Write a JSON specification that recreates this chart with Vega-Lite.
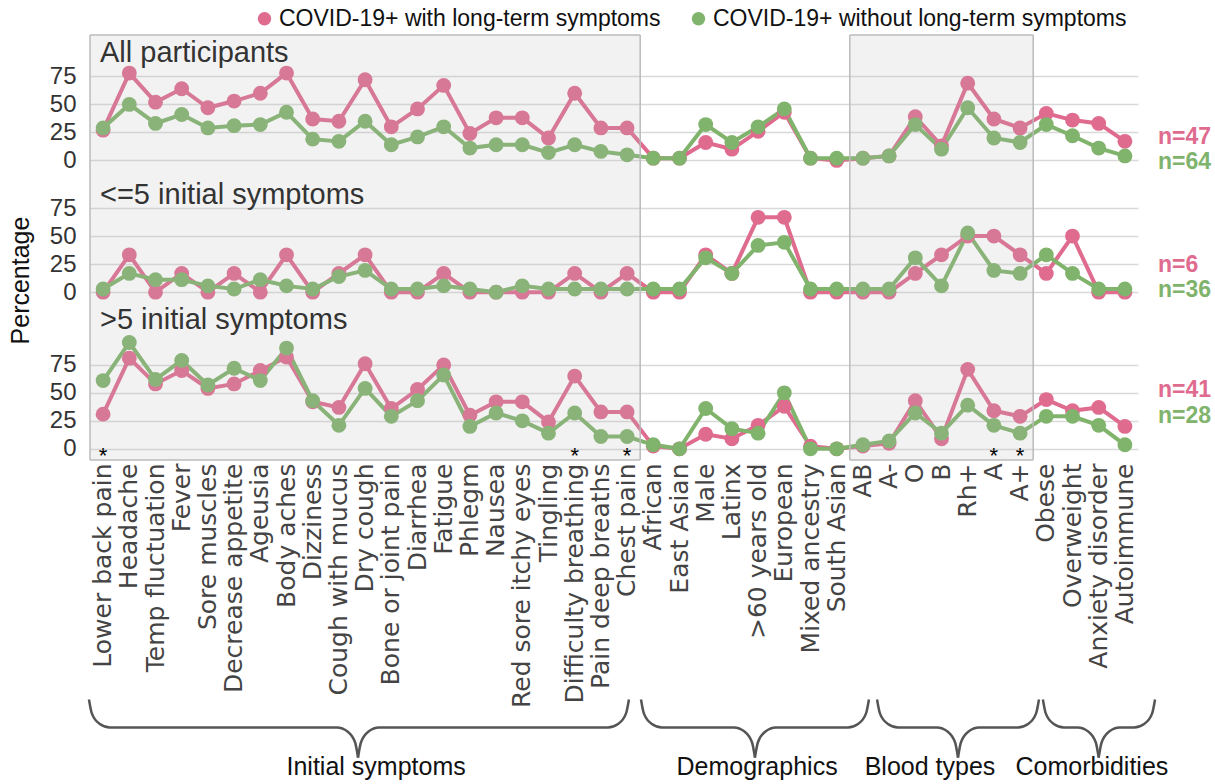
{
  "$schema": "https://vega.github.io/schema/vega-lite/v6.json",
  "padding": {"left": 7, "top": 7, "right": 2, "bottom": 0},
  "background": "white",
  "config": {"view": {"stroke": null}, "font": "Liberation Sans"},
  "spacing": 0,
  "bounds": "flush",
  "resolve": {"scale": {"x": "independent", "y": "independent"}},
  "datasets": {
    "d": [
      {"p":1,"c":"Lower back pain","COVID-19+ with long-term symptoms":27,"COVID-19+ without long-term symptoms":29},
      {"p":1,"c":"Headache","COVID-19+ with long-term symptoms":78,"COVID-19+ without long-term symptoms":50},
      {"p":1,"c":"Temp fluctuation","COVID-19+ with long-term symptoms":52,"COVID-19+ without long-term symptoms":33},
      {"p":1,"c":"Fever","COVID-19+ with long-term symptoms":64,"COVID-19+ without long-term symptoms":41},
      {"p":1,"c":"Sore muscles","COVID-19+ with long-term symptoms":47,"COVID-19+ without long-term symptoms":29},
      {"p":1,"c":"Decrease appetite","COVID-19+ with long-term symptoms":53,"COVID-19+ without long-term symptoms":31},
      {"p":1,"c":"Ageusia","COVID-19+ with long-term symptoms":60,"COVID-19+ without long-term symptoms":32},
      {"p":1,"c":"Body aches","COVID-19+ with long-term symptoms":78,"COVID-19+ without long-term symptoms":43},
      {"p":1,"c":"Dizziness","COVID-19+ with long-term symptoms":37,"COVID-19+ without long-term symptoms":19},
      {"p":1,"c":"Cough with mucus","COVID-19+ with long-term symptoms":35,"COVID-19+ without long-term symptoms":17},
      {"p":1,"c":"Dry cough","COVID-19+ with long-term symptoms":72,"COVID-19+ without long-term symptoms":35},
      {"p":1,"c":"Bone or joint pain","COVID-19+ with long-term symptoms":30,"COVID-19+ without long-term symptoms":14},
      {"p":1,"c":"Diarrhea","COVID-19+ with long-term symptoms":46,"COVID-19+ without long-term symptoms":21},
      {"p":1,"c":"Fatigue","COVID-19+ with long-term symptoms":67,"COVID-19+ without long-term symptoms":30},
      {"p":1,"c":"Phlegm","COVID-19+ with long-term symptoms":24,"COVID-19+ without long-term symptoms":11},
      {"p":1,"c":"Nausea","COVID-19+ with long-term symptoms":38,"COVID-19+ without long-term symptoms":14},
      {"p":1,"c":"Red sore itchy eyes","COVID-19+ with long-term symptoms":38,"COVID-19+ without long-term symptoms":14},
      {"p":1,"c":"Tingling","COVID-19+ with long-term symptoms":20,"COVID-19+ without long-term symptoms":7},
      {"p":1,"c":"Difficulty breathing","COVID-19+ with long-term symptoms":60,"COVID-19+ without long-term symptoms":14},
      {"p":1,"c":"Pain deep breaths","COVID-19+ with long-term symptoms":29,"COVID-19+ without long-term symptoms":8},
      {"p":1,"c":"Chest pain","COVID-19+ with long-term symptoms":29,"COVID-19+ without long-term symptoms":5},
      {"p":1,"c":"African","COVID-19+ with long-term symptoms":2,"COVID-19+ without long-term symptoms":2},
      {"p":1,"c":"East Asian","COVID-19+ with long-term symptoms":2,"COVID-19+ without long-term symptoms":2},
      {"p":1,"c":"Male","COVID-19+ with long-term symptoms":16,"COVID-19+ without long-term symptoms":32},
      {"p":1,"c":"Latinx","COVID-19+ with long-term symptoms":10,"COVID-19+ without long-term symptoms":16},
      {"p":1,"c":">60 years old","COVID-19+ with long-term symptoms":26,"COVID-19+ without long-term symptoms":30},
      {"p":1,"c":"European","COVID-19+ with long-term symptoms":43,"COVID-19+ without long-term symptoms":46},
      {"p":1,"c":"Mixed ancestry","COVID-19+ with long-term symptoms":2,"COVID-19+ without long-term symptoms":2},
      {"p":1,"c":"South Asian","COVID-19+ with long-term symptoms":0,"COVID-19+ without long-term symptoms":2},
      {"p":1,"c":"AB","COVID-19+ with long-term symptoms":2,"COVID-19+ without long-term symptoms":2},
      {"p":1,"c":"A-","COVID-19+ with long-term symptoms":4,"COVID-19+ without long-term symptoms":4},
      {"p":1,"c":"O","COVID-19+ with long-term symptoms":39,"COVID-19+ without long-term symptoms":32},
      {"p":1,"c":"B","COVID-19+ with long-term symptoms":13,"COVID-19+ without long-term symptoms":10},
      {"p":1,"c":"Rh+","COVID-19+ with long-term symptoms":69,"COVID-19+ without long-term symptoms":47},
      {"p":1,"c":"A","COVID-19+ with long-term symptoms":37,"COVID-19+ without long-term symptoms":20},
      {"p":1,"c":"A+","COVID-19+ with long-term symptoms":29,"COVID-19+ without long-term symptoms":16},
      {"p":1,"c":"Obese","COVID-19+ with long-term symptoms":42,"COVID-19+ without long-term symptoms":32},
      {"p":1,"c":"Overweight","COVID-19+ with long-term symptoms":36,"COVID-19+ without long-term symptoms":22},
      {"p":1,"c":"Anxiety disorder","COVID-19+ with long-term symptoms":33,"COVID-19+ without long-term symptoms":11},
      {"p":1,"c":"Autoimmune","COVID-19+ with long-term symptoms":17,"COVID-19+ without long-term symptoms":4},
      {"p":2,"c":"Lower back pain","COVID-19+ with long-term symptoms":0,"COVID-19+ without long-term symptoms":2.8},
      {"p":2,"c":"Headache","COVID-19+ with long-term symptoms":33.3,"COVID-19+ without long-term symptoms":16.7},
      {"p":2,"c":"Temp fluctuation","COVID-19+ with long-term symptoms":0,"COVID-19+ without long-term symptoms":11.1},
      {"p":2,"c":"Fever","COVID-19+ with long-term symptoms":16.7,"COVID-19+ without long-term symptoms":11.1},
      {"p":2,"c":"Sore muscles","COVID-19+ with long-term symptoms":0,"COVID-19+ without long-term symptoms":5.6},
      {"p":2,"c":"Decrease appetite","COVID-19+ with long-term symptoms":16.7,"COVID-19+ without long-term symptoms":2.8},
      {"p":2,"c":"Ageusia","COVID-19+ with long-term symptoms":0,"COVID-19+ without long-term symptoms":11.1},
      {"p":2,"c":"Body aches","COVID-19+ with long-term symptoms":33.3,"COVID-19+ without long-term symptoms":5.6},
      {"p":2,"c":"Dizziness","COVID-19+ with long-term symptoms":0,"COVID-19+ without long-term symptoms":2.8},
      {"p":2,"c":"Cough with mucus","COVID-19+ with long-term symptoms":16.7,"COVID-19+ without long-term symptoms":13.9},
      {"p":2,"c":"Dry cough","COVID-19+ with long-term symptoms":33.3,"COVID-19+ without long-term symptoms":19.4},
      {"p":2,"c":"Bone or joint pain","COVID-19+ with long-term symptoms":0,"COVID-19+ without long-term symptoms":2.8},
      {"p":2,"c":"Diarrhea","COVID-19+ with long-term symptoms":0,"COVID-19+ without long-term symptoms":2.8},
      {"p":2,"c":"Fatigue","COVID-19+ with long-term symptoms":16.7,"COVID-19+ without long-term symptoms":5.6},
      {"p":2,"c":"Phlegm","COVID-19+ with long-term symptoms":0,"COVID-19+ without long-term symptoms":2.8},
      {"p":2,"c":"Nausea","COVID-19+ with long-term symptoms":0,"COVID-19+ without long-term symptoms":0},
      {"p":2,"c":"Red sore itchy eyes","COVID-19+ with long-term symptoms":0,"COVID-19+ without long-term symptoms":5.6},
      {"p":2,"c":"Tingling","COVID-19+ with long-term symptoms":0,"COVID-19+ without long-term symptoms":2.8},
      {"p":2,"c":"Difficulty breathing","COVID-19+ with long-term symptoms":16.7,"COVID-19+ without long-term symptoms":2.8},
      {"p":2,"c":"Pain deep breaths","COVID-19+ with long-term symptoms":0,"COVID-19+ without long-term symptoms":2.8},
      {"p":2,"c":"Chest pain","COVID-19+ with long-term symptoms":16.7,"COVID-19+ without long-term symptoms":2.8},
      {"p":2,"c":"African","COVID-19+ with long-term symptoms":0,"COVID-19+ without long-term symptoms":2.8},
      {"p":2,"c":"East Asian","COVID-19+ with long-term symptoms":0,"COVID-19+ without long-term symptoms":2.8},
      {"p":2,"c":"Male","COVID-19+ with long-term symptoms":33.3,"COVID-19+ without long-term symptoms":30.6},
      {"p":2,"c":"Latinx","COVID-19+ with long-term symptoms":16.7,"COVID-19+ without long-term symptoms":16.7},
      {"p":2,"c":">60 years old","COVID-19+ with long-term symptoms":66.7,"COVID-19+ without long-term symptoms":41.7},
      {"p":2,"c":"European","COVID-19+ with long-term symptoms":66.7,"COVID-19+ without long-term symptoms":44.4},
      {"p":2,"c":"Mixed ancestry","COVID-19+ with long-term symptoms":0,"COVID-19+ without long-term symptoms":2.8},
      {"p":2,"c":"South Asian","COVID-19+ with long-term symptoms":0,"COVID-19+ without long-term symptoms":2.8},
      {"p":2,"c":"AB","COVID-19+ with long-term symptoms":0,"COVID-19+ without long-term symptoms":2.8},
      {"p":2,"c":"A-","COVID-19+ with long-term symptoms":0,"COVID-19+ without long-term symptoms":2.8},
      {"p":2,"c":"O","COVID-19+ with long-term symptoms":16.7,"COVID-19+ without long-term symptoms":30.6},
      {"p":2,"c":"B","COVID-19+ with long-term symptoms":33.3,"COVID-19+ without long-term symptoms":5.6},
      {"p":2,"c":"Rh+","COVID-19+ with long-term symptoms":50,"COVID-19+ without long-term symptoms":52.8},
      {"p":2,"c":"A","COVID-19+ with long-term symptoms":50,"COVID-19+ without long-term symptoms":19.4},
      {"p":2,"c":"A+","COVID-19+ with long-term symptoms":33.3,"COVID-19+ without long-term symptoms":16.7},
      {"p":2,"c":"Obese","COVID-19+ with long-term symptoms":16.7,"COVID-19+ without long-term symptoms":33.3},
      {"p":2,"c":"Overweight","COVID-19+ with long-term symptoms":50,"COVID-19+ without long-term symptoms":16.7},
      {"p":2,"c":"Anxiety disorder","COVID-19+ with long-term symptoms":0,"COVID-19+ without long-term symptoms":2.8},
      {"p":2,"c":"Autoimmune","COVID-19+ with long-term symptoms":0,"COVID-19+ without long-term symptoms":2.8},
      {"p":3,"c":"Lower back pain","COVID-19+ with long-term symptoms":31,"COVID-19+ without long-term symptoms":61},
      {"p":3,"c":"Headache","COVID-19+ with long-term symptoms":81,"COVID-19+ without long-term symptoms":95},
      {"p":3,"c":"Temp fluctuation","COVID-19+ with long-term symptoms":58,"COVID-19+ without long-term symptoms":62},
      {"p":3,"c":"Fever","COVID-19+ with long-term symptoms":70,"COVID-19+ without long-term symptoms":79},
      {"p":3,"c":"Sore muscles","COVID-19+ with long-term symptoms":54,"COVID-19+ without long-term symptoms":57},
      {"p":3,"c":"Decrease appetite","COVID-19+ with long-term symptoms":58,"COVID-19+ without long-term symptoms":72},
      {"p":3,"c":"Ageusia","COVID-19+ with long-term symptoms":70,"COVID-19+ without long-term symptoms":61},
      {"p":3,"c":"Body aches","COVID-19+ with long-term symptoms":82,"COVID-19+ without long-term symptoms":90},
      {"p":3,"c":"Dizziness","COVID-19+ with long-term symptoms":42,"COVID-19+ without long-term symptoms":43},
      {"p":3,"c":"Cough with mucus","COVID-19+ with long-term symptoms":37,"COVID-19+ without long-term symptoms":21},
      {"p":3,"c":"Dry cough","COVID-19+ with long-term symptoms":76,"COVID-19+ without long-term symptoms":54},
      {"p":3,"c":"Bone or joint pain","COVID-19+ with long-term symptoms":36,"COVID-19+ without long-term symptoms":29},
      {"p":3,"c":"Diarrhea","COVID-19+ with long-term symptoms":53,"COVID-19+ without long-term symptoms":43},
      {"p":3,"c":"Fatigue","COVID-19+ with long-term symptoms":75,"COVID-19+ without long-term symptoms":66},
      {"p":3,"c":"Phlegm","COVID-19+ with long-term symptoms":30,"COVID-19+ without long-term symptoms":20},
      {"p":3,"c":"Nausea","COVID-19+ with long-term symptoms":42,"COVID-19+ without long-term symptoms":32},
      {"p":3,"c":"Red sore itchy eyes","COVID-19+ with long-term symptoms":42,"COVID-19+ without long-term symptoms":25},
      {"p":3,"c":"Tingling","COVID-19+ with long-term symptoms":24,"COVID-19+ without long-term symptoms":14},
      {"p":3,"c":"Difficulty breathing","COVID-19+ with long-term symptoms":65,"COVID-19+ without long-term symptoms":32},
      {"p":3,"c":"Pain deep breaths","COVID-19+ with long-term symptoms":33,"COVID-19+ without long-term symptoms":11},
      {"p":3,"c":"Chest pain","COVID-19+ with long-term symptoms":33,"COVID-19+ without long-term symptoms":11},
      {"p":3,"c":"African","COVID-19+ with long-term symptoms":2.4,"COVID-19+ without long-term symptoms":3.6},
      {"p":3,"c":"East Asian","COVID-19+ with long-term symptoms":0,"COVID-19+ without long-term symptoms":0},
      {"p":3,"c":"Male","COVID-19+ with long-term symptoms":13,"COVID-19+ without long-term symptoms":36},
      {"p":3,"c":"Latinx","COVID-19+ with long-term symptoms":9,"COVID-19+ without long-term symptoms":18},
      {"p":3,"c":">60 years old","COVID-19+ with long-term symptoms":21,"COVID-19+ without long-term symptoms":14},
      {"p":3,"c":"European","COVID-19+ with long-term symptoms":38,"COVID-19+ without long-term symptoms":50},
      {"p":3,"c":"Mixed ancestry","COVID-19+ with long-term symptoms":2.4,"COVID-19+ without long-term symptoms":0},
      {"p":3,"c":"South Asian","COVID-19+ with long-term symptoms":0,"COVID-19+ without long-term symptoms":0},
      {"p":3,"c":"AB","COVID-19+ with long-term symptoms":2.4,"COVID-19+ without long-term symptoms":3.6},
      {"p":3,"c":"A-","COVID-19+ with long-term symptoms":4.9,"COVID-19+ without long-term symptoms":7},
      {"p":3,"c":"O","COVID-19+ with long-term symptoms":43,"COVID-19+ without long-term symptoms":32},
      {"p":3,"c":"B","COVID-19+ with long-term symptoms":9,"COVID-19+ without long-term symptoms":14},
      {"p":3,"c":"Rh+","COVID-19+ with long-term symptoms":71,"COVID-19+ without long-term symptoms":39},
      {"p":3,"c":"A","COVID-19+ with long-term symptoms":34,"COVID-19+ without long-term symptoms":21},
      {"p":3,"c":"A+","COVID-19+ with long-term symptoms":29,"COVID-19+ without long-term symptoms":14},
      {"p":3,"c":"Obese","COVID-19+ with long-term symptoms":44,"COVID-19+ without long-term symptoms":29},
      {"p":3,"c":"Overweight","COVID-19+ with long-term symptoms":34,"COVID-19+ without long-term symptoms":29},
      {"p":3,"c":"Anxiety disorder","COVID-19+ with long-term symptoms":37,"COVID-19+ without long-term symptoms":21},
      {"p":3,"c":"Autoimmune","COVID-19+ with long-term symptoms":20,"COVID-19+ without long-term symptoms":3.6}
    ]
  },
  "vconcat": [
    {
      "width": 1048,
      "height": 131,
      "layer": [
        {
          "data": {"name": "d"},
          "transform": [{"filter": "datum.p == 1"}, {"fold": ["COVID-19+ with long-term symptoms", "COVID-19+ without long-term symptoms"], "as": ["s", "v"]}],
          "mark": {"type": "line", "strokeWidth": 4},
          "encoding": {
            "x": {"field": "c", "type": "nominal", "scale": {"type": "band", "paddingInner": 0, "paddingOuter": 0, "domain": ["Lower back pain","Headache","Temp fluctuation","Fever","Sore muscles","Decrease appetite","Ageusia","Body aches","Dizziness","Cough with mucus","Dry cough","Bone or joint pain","Diarrhea","Fatigue","Phlegm","Nausea","Red sore itchy eyes","Tingling","Difficulty breathing","Pain deep breaths","Chest pain","African","East Asian","Male","Latinx",">60 years old","European","Mixed ancestry","South Asian","AB","A-","O","B","Rh+","A","A+","Obese","Overweight","Anxiety disorder","Autoimmune"]}, "axis": null},
            "y": {"field": "v", "type": "quantitative", "scale": {"domain": [-5, 112], "nice": false, "zero": false}, "axis": {"values": [0, 25, 50, 75], "grid": true, "gridColor": "#d9d9d9", "gridWidth": 1.5, "domain": false, "ticks": false, "labelFontSize": 24, "labelColor": "#333", "labelPadding": 14, "labelFont": "Liberation Sans", "title": null}},
            "detail": {"field": "s"},
            "stroke": {"condition": {"test": "datum.s == 'COVID-19+ with long-term symptoms'", "value": "#df6b8f"}, "value": "#80b36c"}
          }
        },
        {
          "data": {"name": "d"},
          "transform": [{"filter": "datum.p == 1"}, {"fold": ["COVID-19+ with long-term symptoms", "COVID-19+ without long-term symptoms"], "as": ["s", "v"]}],
          "mark": {"type": "point", "filled": true, "size": 220, "opacity": 1, "strokeWidth": 0},
          "encoding": {
            "x": {"field": "c", "type": "nominal", "axis": null},
            "y": {"field": "v", "type": "quantitative"},
            "color": {"field": "s", "type": "nominal", "scale": {"domain": ["COVID-19+ with long-term symptoms", "COVID-19+ without long-term symptoms"], "range": ["#df6b8f", "#80b36c"]}, "legend": {"title": null, "orient": "none", "legendX": 163, "legendY": -28, "direction": "horizontal", "labelFontSize": 23, "labelFont": "Liberation Sans", "labelColor": "#111", "symbolSize": 180, "symbolType": "circle", "columnPadding": 26, "labelOffset": 3, "padding": 0, "symbolStrokeWidth": 0, "labelLimit": 600}}
          }
        },
        {
          "data": {"values": [{"c": "Lower back pain", "c2": "Chest pain"}, {"c": "AB", "c2": "A+"}]},
          "mark": {"type": "rect", "fill": "#b8b8b8", "opacity": 0.18},
          "encoding": {
            "x": {"field": "c", "type": "nominal", "bandPosition": 0, "axis": null},
            "x2": {"field": "c2", "bandPosition": 1}
          }
        },
        {
          "data": {"values": [{"c": "Lower back pain"}, {"c": "AB"}]},
          "mark": {"type": "rule", "color": "#bbbbbb", "strokeWidth": 1.5},
          "encoding": {"x": {"field": "c", "type": "nominal", "bandPosition": 0, "axis": null}}
        },
        {
          "data": {"values": [{"c": "Chest pain"}, {"c": "A+"}]},
          "mark": {"type": "rule", "color": "#bbbbbb", "strokeWidth": 1.5},
          "encoding": {"x": {"field": "c", "type": "nominal", "bandPosition": 1, "axis": null}}
        },
        {
          "data": {"values": [{"c": "Lower back pain", "c2": "Chest pain"}, {"c": "AB", "c2": "A+"}]},
          "mark": {"type": "rule", "color": "#bbbbbb", "strokeWidth": 1.5},
          "encoding": {
            "x": {"field": "c", "type": "nominal", "bandPosition": 0, "axis": null},
            "x2": {"field": "c2", "bandPosition": 1},
            "y": {"datum": 112, "type": "quantitative"}
          }
        },
        {
          "data": {"values": [{"c": "Lower back pain", "t": "All participants", "v": 96}]},
          "mark": {"type": "text", "align": "left", "baseline": "middle", "fontSize": 29, "dx": 10, "color": "#333"},
          "encoding": {
            "x": {"field": "c", "type": "nominal", "bandPosition": 0, "axis": null},
            "y": {"field": "v", "type": "quantitative"},
            "text": {"field": "t"}
          }
        },
        {
          "data": {"values": [{"c": "Autoimmune", "s": "COVID-19+ with long-term symptoms", "t": "n=47", "v": 21}, {"c": "Autoimmune", "s": "COVID-19+ without long-term symptoms", "t": "n=64", "v": -1.5}]},
          "mark": {"type": "text", "align": "left", "baseline": "middle", "fontSize": 23, "fontWeight": "bold", "dx": 33},
          "encoding": {
            "x": {"field": "c", "type": "nominal", "axis": null},
            "y": {"field": "v", "type": "quantitative"},
            "color": {"condition": {"test": "datum.s == 'COVID-19+ with long-term symptoms'", "value": "#df6b8f"}, "value": "#80b36c"},
            "text": {"field": "t"}
          }
        }
      ]
    },
    {
      "width": 1048,
      "height": 134,
      "layer": [
        {
          "data": {"name": "d"},
          "transform": [{"filter": "datum.p == 2"}, {"fold": ["COVID-19+ with long-term symptoms", "COVID-19+ without long-term symptoms"], "as": ["s", "v"]}],
          "mark": {"type": "line", "strokeWidth": 4},
          "encoding": {
            "x": {"field": "c", "type": "nominal", "scale": {"type": "band", "paddingInner": 0, "paddingOuter": 0, "domain": ["Lower back pain","Headache","Temp fluctuation","Fever","Sore muscles","Decrease appetite","Ageusia","Body aches","Dizziness","Cough with mucus","Dry cough","Bone or joint pain","Diarrhea","Fatigue","Phlegm","Nausea","Red sore itchy eyes","Tingling","Difficulty breathing","Pain deep breaths","Chest pain","African","East Asian","Male","Latinx",">60 years old","European","Mixed ancestry","South Asian","AB","A-","O","B","Rh+","A","A+","Obese","Overweight","Anxiety disorder","Autoimmune"]}, "axis": null},
            "y": {"field": "v", "type": "quantitative", "scale": {"domain": [-7, 112.5], "nice": false, "zero": false}, "axis": {"values": [0, 25, 50, 75], "grid": true, "gridColor": "#d9d9d9", "gridWidth": 1.5, "domain": false, "ticks": false, "labelFontSize": 24, "labelColor": "#333", "labelPadding": 14, "labelFont": "Liberation Sans", "title": "Percentage", "titleFont": "Liberation Sans", "titleFontSize": 25, "titleFontWeight": "normal", "titleColor": "#111", "titleX": -62, "titleY": 114, "titleAngle": -90, "titleAlign": "center", "titleBaseline": "alphabetic"}},
            "detail": {"field": "s"},
            "stroke": {"condition": {"test": "datum.s == 'COVID-19+ with long-term symptoms'", "value": "#df6b8f"}, "value": "#80b36c"}
          }
        },
        {
          "data": {"name": "d"},
          "transform": [{"filter": "datum.p == 2"}, {"fold": ["COVID-19+ with long-term symptoms", "COVID-19+ without long-term symptoms"], "as": ["s", "v"]}],
          "mark": {"type": "point", "filled": true, "size": 220, "opacity": 1, "strokeWidth": 0},
          "encoding": {
            "x": {"field": "c", "type": "nominal", "axis": null},
            "y": {"field": "v", "type": "quantitative"},
            "color": {"field": "s", "type": "nominal"}
          }
        },
        {
          "data": {"values": [{"c": "Lower back pain", "c2": "Chest pain"}, {"c": "AB", "c2": "A+"}]},
          "mark": {"type": "rect", "fill": "#b8b8b8", "opacity": 0.18},
          "encoding": {
            "x": {"field": "c", "type": "nominal", "bandPosition": 0, "axis": null},
            "x2": {"field": "c2", "bandPosition": 1}
          }
        },
        {
          "data": {"values": [{"c": "Lower back pain"}, {"c": "AB"}]},
          "mark": {"type": "rule", "color": "#bbbbbb", "strokeWidth": 1.5},
          "encoding": {"x": {"field": "c", "type": "nominal", "bandPosition": 0, "axis": null}}
        },
        {
          "data": {"values": [{"c": "Chest pain"}, {"c": "A+"}]},
          "mark": {"type": "rule", "color": "#bbbbbb", "strokeWidth": 1.5},
          "encoding": {"x": {"field": "c", "type": "nominal", "bandPosition": 1, "axis": null}}
        },
        {
          "data": {"values": [{"c": "Lower back pain", "t": "<=5 initial symptoms", "v": 86.6}]},
          "mark": {"type": "text", "align": "left", "baseline": "middle", "fontSize": 29, "dx": 10, "color": "#333"},
          "encoding": {
            "x": {"field": "c", "type": "nominal", "bandPosition": 0, "axis": null},
            "y": {"field": "v", "type": "quantitative"},
            "text": {"field": "t"}
          }
        },
        {
          "data": {"values": [{"c": "Autoimmune", "s": "COVID-19+ with long-term symptoms", "t": "n=6", "v": 24}, {"c": "Autoimmune", "s": "COVID-19+ without long-term symptoms", "t": "n=36", "v": 1.8}]},
          "mark": {"type": "text", "align": "left", "baseline": "middle", "fontSize": 23, "fontWeight": "bold", "dx": 33},
          "encoding": {
            "x": {"field": "c", "type": "nominal", "axis": null},
            "y": {"field": "v", "type": "quantitative"},
            "color": {"condition": {"test": "datum.s == 'COVID-19+ with long-term symptoms'", "value": "#df6b8f"}, "value": "#80b36c"},
            "text": {"field": "t"}
          }
        }
      ]
    },
    {
      "width": 1048,
      "height": 160,
      "resolve": {"scale": {"x": "independent", "y": "independent"}},
      "layer": [
        {
          "layer": [
            {
              "data": {"name": "d"},
              "transform": [{"filter": "datum.p == 3"}, {"fold": ["COVID-19+ with long-term symptoms", "COVID-19+ without long-term symptoms"], "as": ["s", "v"]}],
              "mark": {"type": "line", "strokeWidth": 4},
              "encoding": {
                "x": {"field": "c", "type": "nominal", "scale": {"type": "band", "paddingInner": 0, "paddingOuter": 0, "domain": ["Lower back pain","Headache","Temp fluctuation","Fever","Sore muscles","Decrease appetite","Ageusia","Body aches","Dizziness","Cough with mucus","Dry cough","Bone or joint pain","Diarrhea","Fatigue","Phlegm","Nausea","Red sore itchy eyes","Tingling","Difficulty breathing","Pain deep breaths","Chest pain","African","East Asian","Male","Latinx",">60 years old","European","Mixed ancestry","South Asian","AB","A-","O","B","Rh+","A","A+","Obese","Overweight","Anxiety disorder","Autoimmune"]}, "axis": {"labelAngle": -90, "labelFontSize": 25, "labelFont": "DejaVu Sans", "labelColor": "#444", "ticks": false, "domain": false, "labelPadding": 3, "title": null, "labelOverlap": false, "labelLimit": 500}},
                "y": {"field": "v", "type": "quantitative", "scale": {"domain": [-10, 133], "nice": false, "zero": false}, "axis": {"values": [0, 25, 50, 75], "grid": true, "gridColor": "#d9d9d9", "gridWidth": 1.5, "domain": false, "ticks": false, "labelFontSize": 24, "labelColor": "#333", "labelPadding": 14, "labelFont": "Liberation Sans", "title": null}},
                "detail": {"field": "s"},
                "stroke": {"condition": {"test": "datum.s == 'COVID-19+ with long-term symptoms'", "value": "#df6b8f"}, "value": "#80b36c"}
              }
            },
            {
              "data": {"name": "d"},
              "transform": [{"filter": "datum.p == 3"}, {"fold": ["COVID-19+ with long-term symptoms", "COVID-19+ without long-term symptoms"], "as": ["s", "v"]}],
              "mark": {"type": "point", "filled": true, "size": 220, "opacity": 1, "strokeWidth": 0},
              "encoding": {
                "x": {"field": "c", "type": "nominal"},
                "y": {"field": "v", "type": "quantitative"},
                "color": {"field": "s", "type": "nominal"}
              }
            },
            {
              "data": {"values": [{"c": "Lower back pain", "c2": "Chest pain"}, {"c": "AB", "c2": "A+"}]},
              "mark": {"type": "rect", "fill": "#b8b8b8", "opacity": 0.18},
              "encoding": {
                "x": {"field": "c", "type": "nominal", "bandPosition": 0},
                "x2": {"field": "c2", "bandPosition": 1}
              }
            },
            {
              "data": {"values": [{"c": "Lower back pain"}, {"c": "AB"}]},
              "mark": {"type": "rule", "color": "#bbbbbb", "strokeWidth": 1.5},
              "encoding": {"x": {"field": "c", "type": "nominal", "bandPosition": 0}}
            },
            {
              "data": {"values": [{"c": "Chest pain"}, {"c": "A+"}]},
              "mark": {"type": "rule", "color": "#bbbbbb", "strokeWidth": 1.5},
              "encoding": {"x": {"field": "c", "type": "nominal", "bandPosition": 1}}
            },
            {
              "data": {"values": [{"c": "Lower back pain", "c2": "Chest pain"}, {"c": "AB", "c2": "A+"}]},
              "mark": {"type": "rule", "color": "#bbbbbb", "strokeWidth": 1.5},
              "encoding": {
                "x": {"field": "c", "type": "nominal", "bandPosition": 0},
                "x2": {"field": "c2", "bandPosition": 1},
                "y": {"datum": -10, "type": "quantitative"}
              }
            },
            {
              "data": {"values": [{"c": "Lower back pain", "t": ">5 initial symptoms", "v": 115}]},
              "mark": {"type": "text", "align": "left", "baseline": "middle", "fontSize": 29, "dx": 10, "color": "#333"},
              "encoding": {
                "x": {"field": "c", "type": "nominal", "bandPosition": 0},
                "y": {"field": "v", "type": "quantitative"},
                "text": {"field": "t"}
              }
            },
            {
              "data": {"values": [{"c": "Lower back pain"}, {"c": "Difficulty breathing"}, {"c": "Chest pain"}, {"c": "A"}, {"c": "A+"}]},
              "mark": {"type": "text", "text": "*", "baseline": "middle", "fontSize": 22, "color": "#000"},
              "encoding": {
                "x": {"field": "c", "type": "nominal"},
                "y": {"datum": -6, "type": "quantitative"}
              }
            },
            {
              "data": {"values": [{"c": "Autoimmune", "s": "COVID-19+ with long-term symptoms", "t": "n=41", "v": 52.7}, {"c": "Autoimmune", "s": "COVID-19+ without long-term symptoms", "t": "n=28", "v": 29.5}]},
              "mark": {"type": "text", "align": "left", "baseline": "middle", "fontSize": 23, "fontWeight": "bold", "dx": 33},
              "encoding": {
                "x": {"field": "c", "type": "nominal"},
                "y": {"field": "v", "type": "quantitative"},
                "color": {"condition": {"test": "datum.s == 'COVID-19+ with long-term symptoms'", "value": "#df6b8f"}, "value": "#80b36c"},
                "text": {"field": "t"}
              }
            }
          ]
        },
        {
          "layer": [
            {
              "data": {"values": [
                {"g":"Initial symptoms L","o":1,"x":-0.54,"y":-224},{"g":"Initial symptoms L","o":2,"x":-0.43,"y":-236.5},{"g":"Initial symptoms L","o":3,"x":-0.14,"y":-245.7},{"g":"Initial symptoms L","o":4,"x":0.26,"y":-249},{"g":"Initial symptoms L","o":5,"x":8.93,"y":-249},{"g":"Initial symptoms L","o":6,"x":9.33,"y":-252.6},{"g":"Initial symptoms L","o":7,"x":9.62,"y":-262.5},{"g":"Initial symptoms L","o":8,"x":9.73,"y":-276},
                {"g":"Initial symptoms R","o":1,"x":9.73,"y":-276},{"g":"Initial symptoms R","o":2,"x":9.84,"y":-262.5},{"g":"Initial symptoms R","o":3,"x":10.13,"y":-252.6},{"g":"Initial symptoms R","o":4,"x":10.53,"y":-249},{"g":"Initial symptoms R","o":5,"x":19.27,"y":-249},{"g":"Initial symptoms R","o":6,"x":19.67,"y":-245.7},{"g":"Initial symptoms R","o":7,"x":19.96,"y":-236.5},{"g":"Initial symptoms R","o":8,"x":20.07,"y":-224},
                {"g":"Demographics L","o":1,"x":20.53,"y":-224},{"g":"Demographics L","o":2,"x":20.64,"y":-236.5},{"g":"Demographics L","o":3,"x":20.93,"y":-245.7},{"g":"Demographics L","o":4,"x":21.33,"y":-249},{"g":"Demographics L","o":5,"x":24.08,"y":-249},{"g":"Demographics L","o":6,"x":24.48,"y":-252.6},{"g":"Demographics L","o":7,"x":24.77,"y":-262.5},{"g":"Demographics L","o":8,"x":24.88,"y":-276},
                {"g":"Demographics R","o":1,"x":24.88,"y":-276},{"g":"Demographics R","o":2,"x":24.99,"y":-262.5},{"g":"Demographics R","o":3,"x":25.28,"y":-252.6},{"g":"Demographics R","o":4,"x":25.68,"y":-249},{"g":"Demographics R","o":5,"x":28.43,"y":-249},{"g":"Demographics R","o":6,"x":28.83,"y":-245.7},{"g":"Demographics R","o":7,"x":29.12,"y":-236.5},{"g":"Demographics R","o":8,"x":29.23,"y":-224},
                {"g":"Blood types L","o":1,"x":29.54,"y":-224},{"g":"Blood types L","o":2,"x":29.65,"y":-236.5},{"g":"Blood types L","o":3,"x":29.94,"y":-245.7},{"g":"Blood types L","o":4,"x":30.34,"y":-249},{"g":"Blood types L","o":5,"x":31.83,"y":-249},{"g":"Blood types L","o":6,"x":32.23,"y":-252.6},{"g":"Blood types L","o":7,"x":32.52,"y":-262.5},{"g":"Blood types L","o":8,"x":32.63,"y":-276},
                {"g":"Blood types R","o":1,"x":32.63,"y":-276},{"g":"Blood types R","o":2,"x":32.74,"y":-262.5},{"g":"Blood types R","o":3,"x":33.03,"y":-252.6},{"g":"Blood types R","o":4,"x":33.43,"y":-249},{"g":"Blood types R","o":5,"x":34.92,"y":-249},{"g":"Blood types R","o":6,"x":35.32,"y":-245.7},{"g":"Blood types R","o":7,"x":35.61,"y":-236.5},{"g":"Blood types R","o":8,"x":35.72,"y":-224},
                {"g":"Comorbidities L","o":1,"x":35.87,"y":-224},{"g":"Comorbidities L","o":2,"x":35.98,"y":-236.5},{"g":"Comorbidities L","o":3,"x":36.27,"y":-245.7},{"g":"Comorbidities L","o":4,"x":36.67,"y":-249},{"g":"Comorbidities L","o":5,"x":37.2,"y":-249},{"g":"Comorbidities L","o":6,"x":37.6,"y":-252.6},{"g":"Comorbidities L","o":7,"x":37.89,"y":-262.5},{"g":"Comorbidities L","o":8,"x":38.0,"y":-276},
                {"g":"Comorbidities R","o":1,"x":38.0,"y":-276},{"g":"Comorbidities R","o":2,"x":38.11,"y":-262.5},{"g":"Comorbidities R","o":3,"x":38.4,"y":-252.6},{"g":"Comorbidities R","o":4,"x":38.8,"y":-249},{"g":"Comorbidities R","o":5,"x":39.35,"y":-249},{"g":"Comorbidities R","o":6,"x":39.75,"y":-245.7},{"g":"Comorbidities R","o":7,"x":40.04,"y":-236.5},{"g":"Comorbidities R","o":8,"x":40.15,"y":-224}
              ]},
              "mark": {"type": "line", "interpolate": "monotone", "strokeWidth": 2.5, "color": "#555555"},
              "encoding": {
                "x": {"field": "x", "type": "quantitative", "scale": {"domain": [-0.5, 39.5], "nice": false, "zero": false}, "axis": null},
                "y": {"field": "y", "type": "quantitative", "scale": {"domain": [-10, 133], "nice": false, "zero": false}, "axis": null},
                "detail": {"field": "g"},
                "order": {"field": "o", "type": "quantitative"}
              }
            },
            {
              "data": {"values": [
                {"t": "Initial symptoms", "x": 10.42, "y": -284.8},
                {"t": "Demographics", "x": 24.96, "y": -284.8},
                {"t": "Blood types", "x": 31.56, "y": -284.8},
                {"t": "Comorbidities", "x": 37.74, "y": -284.8}
              ]},
              "mark": {"type": "text", "baseline": "middle", "align": "center", "fontSize": 25, "color": "#111"},
              "encoding": {
                "x": {"field": "x", "type": "quantitative", "axis": null},
                "y": {"field": "y", "type": "quantitative", "axis": null},
                "text": {"field": "t"}
              }
            }
          ]
        }
      ]
    }
  ]
}
